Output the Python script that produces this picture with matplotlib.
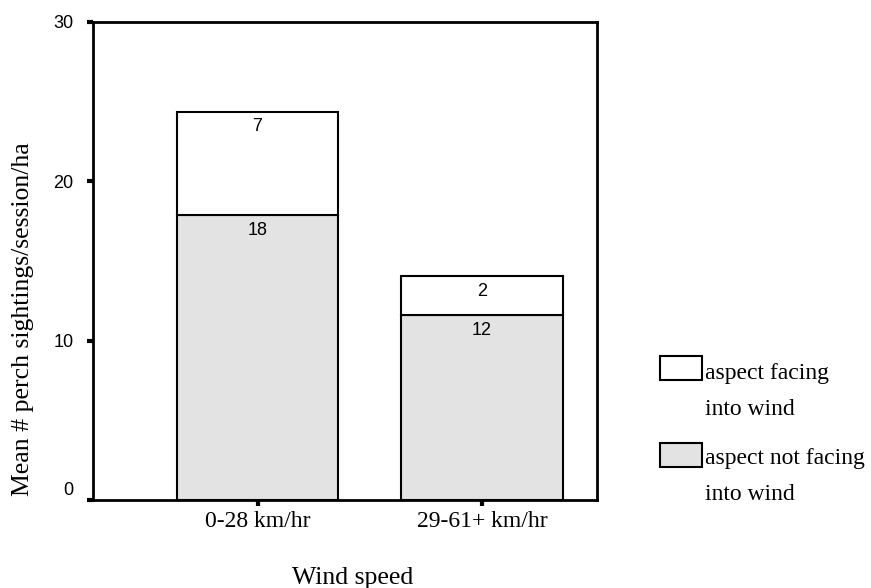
import matplotlib as mpl
import matplotlib.pyplot as plt
from matplotlib.patches import Rectangle
from matplotlib.transforms import ScaledTranslation

mpl.rcParams["font.family"] = "sans-serif"
mpl.rcParams["font.sans-serif"] = ["Liberation Sans", "DejaVu Sans"]

categories = ["0-28 km/hr", "29-61+ km/hr"]
not_facing = [17.89, 11.61]
facing = [6.49, 2.47]
not_facing_labels = ["18", "12"]
facing_labels = ["7", "2"]

serif = "Liberation Serif"
gray = "#e3e3e3"

fig = plt.figure(figsize=(8.71, 5.88), dpi=100)
ax = fig.add_axes([93 / 871, 1 - 500 / 588, (597 - 93) / 871, (500 - 22) / 588])

x = [0, 1]
width = 0.72
ax.bar(x, not_facing, width, color=gray, edgecolor="black", linewidth=1.5)
ax.bar(x, facing, width, bottom=not_facing, color="white", edgecolor="black", linewidth=1.5)

for xi, lo, hi, lab_lo, lab_hi in zip(x, not_facing, facing, not_facing_labels, facing_labels):
    ax.annotate(lab_lo, (xi, lo), xytext=(0, -5), textcoords="offset points",
                ha="center", va="top", fontsize=13)
    ax.annotate(lab_hi, (xi, lo + hi), xytext=(0, -5), textcoords="offset points",
                ha="center", va="top", fontsize=13)

ax.set_xlim(-0.733, 1.512)
ax.set_ylim(0, 30)
ax.set_yticks([0, 10, 20, 30])
ax.set_xticks(x)
ax.set_xticklabels(categories, fontfamily=serif, fontsize=17)
ax.tick_params(axis="y", length=4, width=3, pad=10, labelsize=13)
ax.tick_params(axis="x", length=4, width=3, pad=4)
for sp in ax.spines.values():
    sp.set_linewidth(2)

# the "0" label sits a little above its tick in the original
lbl0 = ax.get_yticklabels()[0]
lbl0.set_transform(lbl0.get_transform() + ScaledTranslation(0, 8 / 72, fig.dpi_scale_trans))

fig.text(23 / 871, 1 - 319 / 588, "Mean # perch sightings/session/ha", rotation=90,
         ha="center", va="center", fontfamily=serif, fontsize=18.5)
fig.text(353 / 871, 1 - 584 / 588, "Wind speed", ha="center", va="baseline",
         fontfamily=serif, fontsize=18.5)

# legend drawn by hand
for top, color, base, lines in [(356, "white", 379, ["aspect facing", "into wind"]),
                                (443, gray, 464, ["aspect not facing", "into wind"])]:
    fig.patches.append(Rectangle((660 / 871, 1 - (top + 24) / 588), 42 / 871, 24 / 588,
                                 transform=fig.transFigure, facecolor=color,
                                 edgecolor="black", linewidth=1.5))
    for i, line in enumerate(lines):
        fig.text(705 / 871, 1 - (base + i * 36) / 588, line, ha="left",
                 va="baseline", fontfamily=serif, fontsize=17)

fig.savefig("out.png", dpi=100)
